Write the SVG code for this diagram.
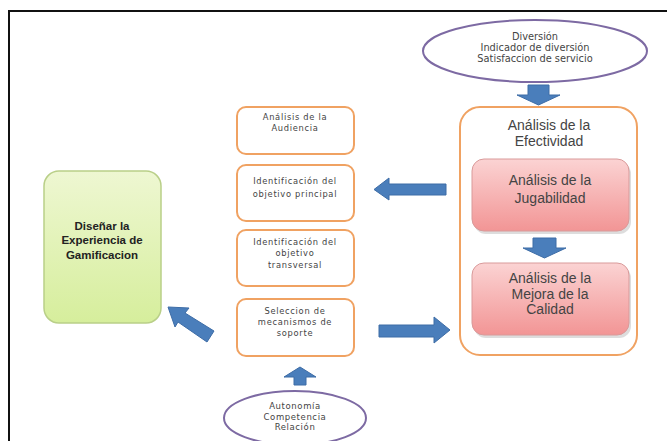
<svg xmlns="http://www.w3.org/2000/svg" width="667" height="441" viewBox="0 0 667 441">
<defs>
<linearGradient id="pink" x1="0" y1="0" x2="0" y2="1"><stop offset="0" stop-color="#fbd3d3"/><stop offset="1" stop-color="#f29595"/></linearGradient>
<linearGradient id="green" x1="0" y1="0" x2="0" y2="1"><stop offset="0" stop-color="#eef7d2"/><stop offset="1" stop-color="#d6ee9c"/></linearGradient>
</defs>
<style>
.frame{fill:none;stroke:#111;stroke-width:2}
.ob{fill:#fff;stroke:#f0a262;stroke-width:2}
.el{fill:#fff;stroke:#7d6aa3;stroke-width:2}
.pk{fill:url(#pink);stroke:#d99a9a;stroke-width:1}
.sh{fill:#bbb;opacity:0.5}
.gr{fill:url(#green);stroke:#b9cf88;stroke-width:1.5}
.ar{fill:#4a7ebb;stroke:#3d6ca6;stroke-width:1}
text{font-family:"Liberation Sans","DejaVu Sans",sans-serif;text-anchor:middle;fill:#333}
.s{font-family:"DejaVu Sans",sans-serif;font-size:8.3px;letter-spacing:0.7px;fill:#444}
.b{font-family:"DejaVu Sans",sans-serif;font-size:8.5px;letter-spacing:0.6px;fill:#444}
.e{font-family:"DejaVu Sans",sans-serif;font-size:9.8px;fill:#444}
.m{font-size:14px;fill:#444}
.g{font-size:11.5px;font-weight:bold;fill:#222}
</style>
<polyline class="frame" points="9,441 9,11 667,11"/>
<g id="n-diversion">
<ellipse class="el" cx="535" cy="51" rx="112" ry="31"/>
<text class="e" x="535" y="40">Diversión</text>
<text class="e" x="535" y="51">Indicador de diversión</text>
<text class="e" x="535" y="62">Satisfaccion de servicio</text>
</g>
<g id="n-efectividad">
<rect class="ob" x="460" y="107" width="177" height="248" rx="20"/>
<text class="m" x="549" y="130">Análisis de la</text>
<text class="m" x="549" y="146">Efectividad</text>
</g>
<g id="n-jugabilidad">
<rect class="sh" x="474" y="162" width="157" height="72" rx="12"/>
<rect class="pk" x="472" y="159" width="157" height="72" rx="12"/>
<text class="m" x="550" y="185">Análisis de la</text>
<text class="m" x="550" y="203">Jugabilidad</text>
</g>
<g id="n-mejora">
<rect class="sh" x="474" y="266" width="157" height="72" rx="12"/>
<rect class="pk" x="472" y="263" width="157" height="72" rx="12"/>
<text class="m" x="550" y="283">Análisis de la</text>
<text class="m" x="550" y="299">Mejora de la</text>
<text class="m" x="550" y="314">Calidad</text>
</g>
<g id="n-audiencia">
<rect class="ob" x="237" y="107" width="117" height="47" rx="9"/>
<text class="s" x="295" y="120">Análisis de la</text>
<text class="s" x="295" y="131">Audiencia</text>
</g>
<g id="n-principal">
<rect class="ob" x="237" y="165" width="117" height="56" rx="9"/>
<text class="s" x="295" y="184">Identificación del</text>
<text class="s" x="295" y="197">objetivo principal</text>
</g>
<g id="n-transversal">
<rect class="ob" x="237" y="230" width="117" height="56" rx="9"/>
<text class="s" x="295" y="245">Identificación del</text>
<text class="s" x="295" y="256">objetivo</text>
<text class="s" x="295" y="268">transversal</text>
</g>
<g id="n-seleccion">
<rect class="ob" x="237" y="299" width="117" height="57" rx="9"/>
<text class="s" x="295" y="314">Seleccion de</text>
<text class="s" x="295" y="325">mecanismos de</text>
<text class="s" x="295" y="336">soporte</text>
</g>
<g id="n-autonomia">
<ellipse class="el" cx="295" cy="418" rx="71" ry="27"/>
<text class="b" x="295" y="409">Autonomía</text>
<text class="b" x="295" y="420">Competencia</text>
<text class="b" x="295" y="430">Relación</text>
</g>
<g id="n-disenar">
<rect class="gr" x="44" y="171" width="117" height="152" rx="15"/>
<text class="g" x="102" y="230">Diseñar la</text>
<text class="g" x="102" y="244">Experiencia de</text>
<text class="g" x="102" y="259">Gamificacion</text>
</g>
<g id="connectors">
<polygon class="ar" points="528,85 549,85 549,95 560,95 538.5,105 517,95 528,95"/>
<polygon class="ar" points="533,238 556,238 556,248 566,248 544.5,258 523,248 533,248"/>
<polygon class="ar" points="446,184 446,195 389,195 389,200 374,189.5 389,178 389,184"/>
<polygon class="ar" points="379,325 434,325 434,317 450,330 434,343 434,337 379,337"/>
<polygon class="ar" points="294,385 306,385 306,377 316,377 300,367 284,377 294,377"/>
<polygon class="ar" points="214,331 207,342 178,322 175,327 168,307 189,308 185,313"/>
</g>
</svg>
